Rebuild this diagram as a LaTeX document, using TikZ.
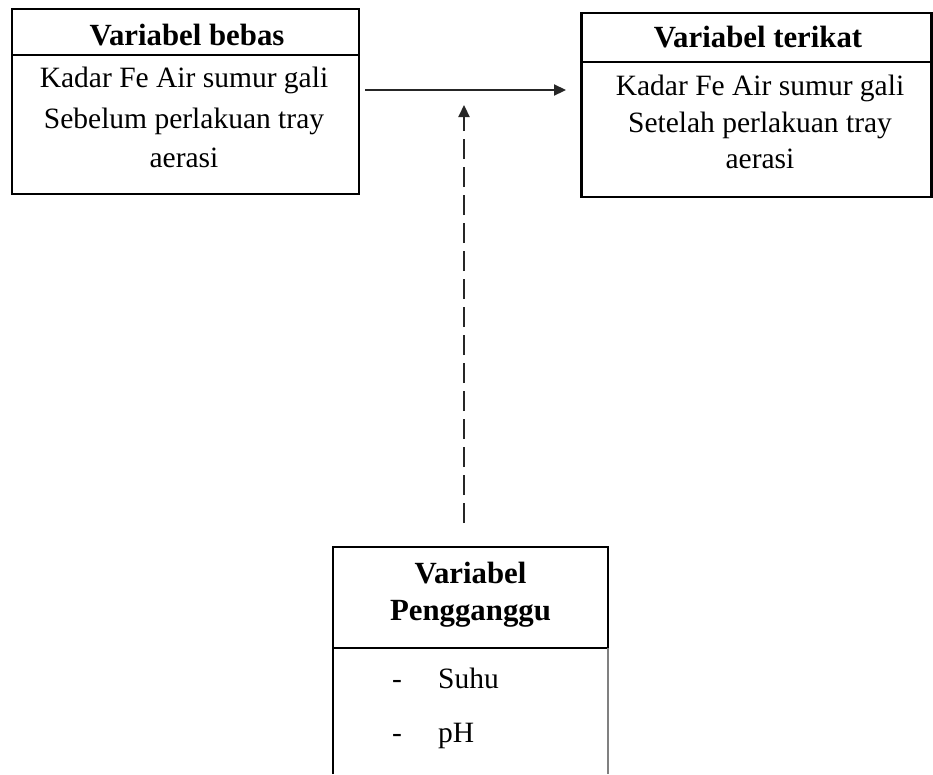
\documentclass[tikz,border=0pt]{standalone}
\usepackage{fontspec}
\setmainfont{Liberation Serif}
\usetikzlibrary{arrows.meta}
\begin{document}
\begin{tikzpicture}[x=1pt,y=-1pt,
  boxline/.style={line width=2.6pt, black},
  txt/.style={inner sep=0pt, font=\fontsize{29.5}{36}\selectfont, anchor=base},
  ttl/.style={txt, font=\fontsize{30.8}{36}\selectfont\bfseries},
  conn/.style={line width=2.2pt, color=black!85, -{Triangle[length=12pt,width=11pt]}}
]
\useasboundingbox (0,0) rectangle (933,774);

% left box
\node[draw, boxline, minimum width=347pt, minimum height=185pt, inner sep=0pt] (bebas) at (185.5,101.5) {};
\draw[boxline] (12,55) -- (359,55);
\node[ttl] (bebasT) at (187,45) {Variabel bebas};
\node[txt] (bebasB1) at (184,87) {Kadar Fe Air sumur gali};
\node[txt] (bebasB2) at (184,128) {Sebelum perlakuan tray};
\node[txt] (bebasB3) at (184,167) {aerasi};

% right box
\node[draw, boxline, minimum width=350pt, minimum height=184pt, inner sep=0pt] (terikat) at (756.5,105) {};
\draw[boxline] (581,62) -- (931.5,62);
\node[ttl] (terikatT) at (758,47) {Variabel terikat};
\node[txt] (terikatB1) at (760,95) {Kadar Fe Air sumur gali};
\node[txt] (terikatB2) at (760,132) {Setelah perlakuan tray};
\node[txt] (terikatB3) at (760,168) {aerasi};

% bottom box
\draw[boxline] (333,774) -- (333,547) -- (608,547) -- (608,648);
\draw[boxline] (333,648) -- (608,648);
\draw[line width=2.6pt, black!50] (608,648) -- (608,774);
\node[ttl] (penggT1) at (470.5,583) {Variabel};
\node[ttl] (penggT2) at (470.5,620) {Pengganggu};
\node[txt, anchor=base west] (suhu) at (438,688) {Suhu};
\node[txt, anchor=base west] (ph) at (438,742) {pH};
\node[txt] (d1) at (397,688) {-};
\node[txt] (d2) at (397,742) {-};

% connectors
\coordinate (a1) at (365,90);
\coordinate (a2) at (566,90);
\coordinate (b1) at (464,523);
\coordinate (b2) at (464,105);
\draw[conn] (a1) -- (a2);
\draw[conn, dash pattern=on 20pt off 8pt] (b1) -- (b2);
\end{tikzpicture}
\end{document}
